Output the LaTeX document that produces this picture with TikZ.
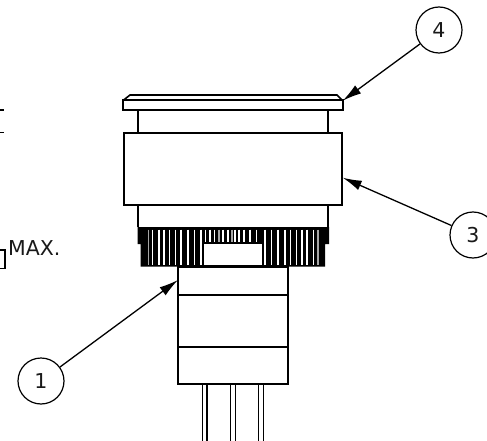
\documentclass[tikz,border=0pt]{standalone}
\usepackage{fontspec}
\setmainfont{DejaVu Sans}
\usetikzlibrary{arrows.meta}
\tikzset{
  outline/.style={draw=black,line width=2pt,line join=miter},
  callout/.style={circle,draw=black,line width=1.2pt,minimum size=46pt,inner sep=0pt,font=\fontsize{20.5}{20.5}\selectfont,text=black!90},
  leader/.style={draw=black,line width=1.3pt,-{Latex[length=19pt,width=10pt]}},
  rib/.style={white,line width=1.5pt},
  ribgray/.style={black!35,line width=1.6pt},
}
\begin{document}
\begin{tikzpicture}[x=1pt,y=-1pt]
\useasboundingbox (0,0) rectangle (487,441);
\clip (0,0) rectangle (487,441);
% left fragments
\draw[line width=1.6pt] (0,110) -- (4,110) (0,132.7) -- (4,132.7);
\draw[line width=1.5pt] (0,250) -- (5,250) -- (5,268.5) -- (0,268.5);
\node[anchor=base west,inner sep=0pt,font=\fontsize{20.5}{20.5}\selectfont,text=black!90] (maxlabel) at (8,255.5) {MAX.};
% cap
\draw[outline,line width=1.6pt] (123,100.5) -- (130,95) -- (337,95) -- (342.5,100.5);
\draw[outline] (123,100.5) rectangle (342.5,110.5);
% neck and body
\draw[outline] (138,110.5) -- (138,133) (327.7,110.5) -- (327.7,133);
\draw[outline] (124,132.7) rectangle (341.7,205);
\draw[outline] (138,205) -- (138,227) (327.7,205) -- (327.7,227);
% knurl
\fill[black] (137.5,227) -- (329,227) -- (329,244) -- (325,244) -- (325,266.5) -- (140.7,266.5) -- (140.7,244) -- (137.5,244) -- cycle;
\foreach \x in {152.7,159,164,169.3,175.3,181,188,194.3,201,265,271.7,278,285,290.7,296.7,302,307,313.3}
  \draw[rib] (\x,229.5) -- (\x,264.5);
\foreach \x in {148.3,317.7}
  \draw[ribgray] (\x,229.5) -- (\x,264.5);
\foreach \x in {205.7,210,214.3,223,228,235,239,244,250,256.7}
  \draw[rib,line width=1.2pt] (\x,229.5) -- (\x,242);
\foreach \x in {219,231.7}
  \draw[ribgray] (\x,229.5) -- (\x,242);
\fill[white] (203.5,243.5) rectangle (261.5,264.5);
% lower body
\draw[outline] (178,266.5) rectangle (288,384);
\draw[outline] (178,295) -- (288,295) (178,346.7) -- (288,346.7);
% pins
\foreach \a/\b in {202.5/207,230.5/235.5,258.5/263.5}
  \draw[line width=1.7pt] (\a,384) -- (\a,441) (\b,384) -- (\b,441);
% callouts
\node[callout] (c1) at (41,381) {1};
\node[callout] (c3) at (473,235) {3};
\node[callout] (c4) at (439,30) {4};
\coordinate (t1) at (178,280);
\coordinate (t3) at (342.7,177.7);
\coordinate (t4) at (342.7,100.7);
\draw[leader] (c1) -- (t1);
\draw[leader] (c3) -- (t3);
\draw[leader] (c4) -- (t4);
\end{tikzpicture}
\end{document}
